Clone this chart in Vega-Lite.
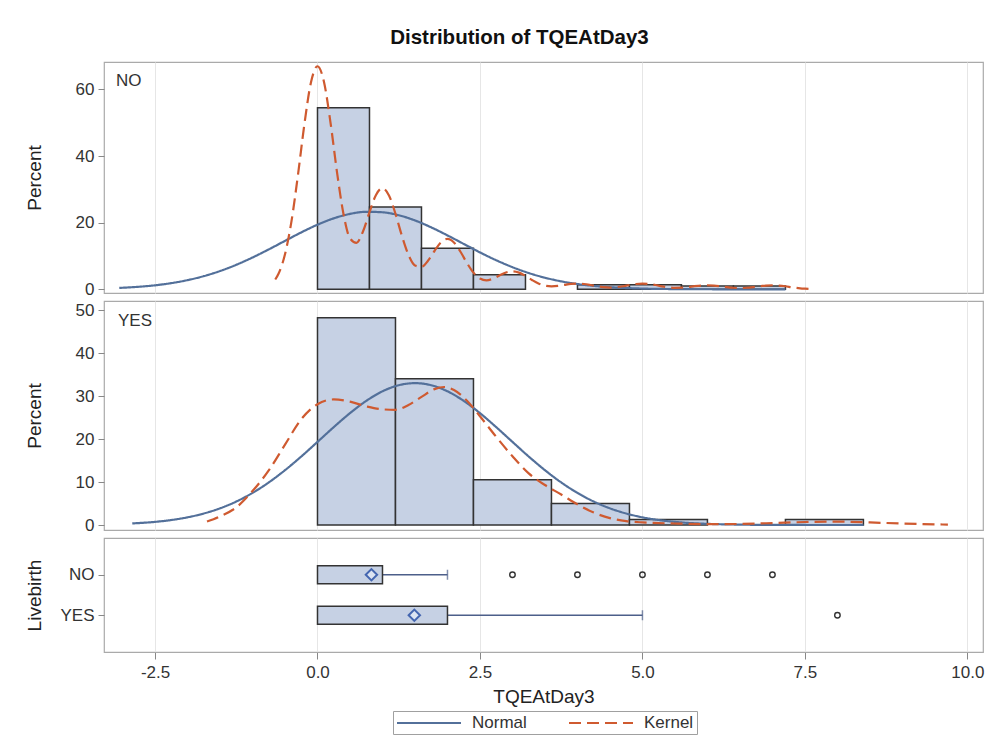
{
  "$schema": "https://vega.github.io/schema/vega-lite/v6.json",
  "background": "white",
  "bounds": "flush",
  "padding": {"left": 24, "top": 27, "right": 6, "bottom": 8},
  "title": {"text": "Distribution of TQEAtDay3", "fontSize": 20.5, "fontWeight": "bold", "font": "Liberation Sans", "color": "#111111", "anchor": "middle", "offset": 13, "dx": 15},
  "config": {
    "font": "Liberation Sans",
    "view": {"stroke": "#aaaaaa", "strokeWidth": 1.2},
    "concat": {"spacing": 8},
    "axis": {"labelFont": "Liberation Sans", "labelFontSize": 17, "labelColor": "#333333", "titleFont": "Liberation Sans", "titleFontSize": 19, "titleFontWeight": "normal", "titleColor": "#222222", "tickColor": "#888888", "gridColor": "#e6e6e6", "domain": false},
    "legend": {"title": null, "orient": "none", "legendX": 289, "legendY": 649, "direction": "horizontal", "symbolType": "M-1,0H7", "symbolSize": 256, "symbolStrokeWidth": 2, "labelFontSize": 17, "labelColor": "#333333", "strokeColor": "#a0a0a0", "padding": 3, "columnPadding": 38, "labelOffset": 58}
  },
  "datasets": {
    "hist": [
      {"group": "NO", "bin_start": 0, "bin_end": 0.8, "pct": 54.5},
      {"group": "NO", "bin_start": 0.8, "bin_end": 1.6, "pct": 24.7},
      {"group": "NO", "bin_start": 1.6, "bin_end": 2.4, "pct": 12.3},
      {"group": "NO", "bin_start": 2.4, "bin_end": 3.2, "pct": 4.4},
      {"group": "NO", "bin_start": 4.0, "bin_end": 4.8, "pct": 1.4},
      {"group": "NO", "bin_start": 4.8, "bin_end": 5.6, "pct": 1.4},
      {"group": "NO", "bin_start": 5.6, "bin_end": 6.4, "pct": 1.0},
      {"group": "NO", "bin_start": 6.4, "bin_end": 7.2, "pct": 1.0},
      {"group": "YES", "bin_start": 0, "bin_end": 1.2, "pct": 48.2},
      {"group": "YES", "bin_start": 1.2, "bin_end": 2.4, "pct": 34.0},
      {"group": "YES", "bin_start": 2.4, "bin_end": 3.6, "pct": 10.5},
      {"group": "YES", "bin_start": 3.6, "bin_end": 4.8, "pct": 5.0},
      {"group": "YES", "bin_start": 4.8, "bin_end": 6.0, "pct": 1.3},
      {"group": "YES", "bin_start": 7.2, "bin_end": 8.4, "pct": 1.3}
    ],
    "curves": [
      {"group": "NO", "curve": "Normal", "x": -3.05, "pct": 0.43},
      {"group": "NO", "curve": "Normal", "x": -2.75, "pct": 0.77},
      {"group": "NO", "curve": "Normal", "x": -2.5, "pct": 1.21},
      {"group": "NO", "curve": "Normal", "x": -2.25, "pct": 1.86},
      {"group": "NO", "curve": "Normal", "x": -2.0, "pct": 2.76},
      {"group": "NO", "curve": "Normal", "x": -1.75, "pct": 3.96},
      {"group": "NO", "curve": "Normal", "x": -1.5, "pct": 5.49},
      {"group": "NO", "curve": "Normal", "x": -1.25, "pct": 7.36},
      {"group": "NO", "curve": "Normal", "x": -1.0, "pct": 9.55},
      {"group": "NO", "curve": "Normal", "x": -0.75, "pct": 11.98},
      {"group": "NO", "curve": "Normal", "x": -0.5, "pct": 14.54},
      {"group": "NO", "curve": "Normal", "x": -0.25, "pct": 17.08},
      {"group": "NO", "curve": "Normal", "x": 0.0, "pct": 19.39},
      {"group": "NO", "curve": "Normal", "x": 0.25, "pct": 21.3},
      {"group": "NO", "curve": "Normal", "x": 0.5, "pct": 22.63},
      {"group": "NO", "curve": "Normal", "x": 0.75, "pct": 23.26},
      {"group": "NO", "curve": "Normal", "x": 1.0, "pct": 23.12},
      {"group": "NO", "curve": "Normal", "x": 1.25, "pct": 22.23},
      {"group": "NO", "curve": "Normal", "x": 1.5, "pct": 20.67},
      {"group": "NO", "curve": "Normal", "x": 1.75, "pct": 18.59},
      {"group": "NO", "curve": "Normal", "x": 2.0, "pct": 16.18},
      {"group": "NO", "curve": "Normal", "x": 2.25, "pct": 13.62},
      {"group": "NO", "curve": "Normal", "x": 2.5, "pct": 11.08},
      {"group": "NO", "curve": "Normal", "x": 2.75, "pct": 8.73},
      {"group": "NO", "curve": "Normal", "x": 3.0, "pct": 6.65},
      {"group": "NO", "curve": "Normal", "x": 3.25, "pct": 4.9},
      {"group": "NO", "curve": "Normal", "x": 3.5, "pct": 3.49},
      {"group": "NO", "curve": "Normal", "x": 3.75, "pct": 2.4},
      {"group": "NO", "curve": "Normal", "x": 4.0, "pct": 1.6},
      {"group": "NO", "curve": "Normal", "x": 4.5, "pct": 0.64},
      {"group": "NO", "curve": "Normal", "x": 5.0, "pct": 0.23},
      {"group": "NO", "curve": "Normal", "x": 5.5, "pct": 0.07},
      {"group": "NO", "curve": "Normal", "x": 6.0, "pct": 0.02},
      {"group": "NO", "curve": "Normal", "x": 7.2, "pct": 0.0},
      {"group": "NO", "curve": "Kernel", "x": -0.65, "pct": 2.94},
      {"group": "NO", "curve": "Kernel", "x": -0.6, "pct": 4.67},
      {"group": "NO", "curve": "Kernel", "x": -0.5, "pct": 10.53},
      {"group": "NO", "curve": "Kernel", "x": -0.4, "pct": 20.48},
      {"group": "NO", "curve": "Kernel", "x": -0.3, "pct": 34.38},
      {"group": "NO", "curve": "Kernel", "x": -0.2, "pct": 49.77},
      {"group": "NO", "curve": "Kernel", "x": -0.1, "pct": 62.13},
      {"group": "NO", "curve": "Kernel", "x": 0.0, "pct": 66.92},
      {"group": "NO", "curve": "Kernel", "x": 0.1, "pct": 62.21},
      {"group": "NO", "curve": "Kernel", "x": 0.2, "pct": 50.04},
      {"group": "NO", "curve": "Kernel", "x": 0.3, "pct": 35.19},
      {"group": "NO", "curve": "Kernel", "x": 0.4, "pct": 22.59},
      {"group": "NO", "curve": "Kernel", "x": 0.5, "pct": 15.3},
      {"group": "NO", "curve": "Kernel", "x": 0.6, "pct": 13.95},
      {"group": "NO", "curve": "Kernel", "x": 0.7, "pct": 17.36},
      {"group": "NO", "curve": "Kernel", "x": 0.8, "pct": 23.13},
      {"group": "NO", "curve": "Kernel", "x": 0.9, "pct": 28.32},
      {"group": "NO", "curve": "Kernel", "x": 1.0, "pct": 30.35},
      {"group": "NO", "curve": "Kernel", "x": 1.1, "pct": 28.18},
      {"group": "NO", "curve": "Kernel", "x": 1.2, "pct": 22.67},
      {"group": "NO", "curve": "Kernel", "x": 1.3, "pct": 15.97},
      {"group": "NO", "curve": "Kernel", "x": 1.4, "pct": 10.33},
      {"group": "NO", "curve": "Kernel", "x": 1.5, "pct": 7.15},
      {"group": "NO", "curve": "Kernel", "x": 1.6, "pct": 6.73},
      {"group": "NO", "curve": "Kernel", "x": 1.7, "pct": 8.57},
      {"group": "NO", "curve": "Kernel", "x": 1.8, "pct": 11.5},
      {"group": "NO", "curve": "Kernel", "x": 1.9, "pct": 14.1},
      {"group": "NO", "curve": "Kernel", "x": 2.0, "pct": 15.12},
      {"group": "NO", "curve": "Kernel", "x": 2.1, "pct": 14.03},
      {"group": "NO", "curve": "Kernel", "x": 2.2, "pct": 11.28},
      {"group": "NO", "curve": "Kernel", "x": 2.3, "pct": 7.9},
      {"group": "NO", "curve": "Kernel", "x": 2.4, "pct": 5.0},
      {"group": "NO", "curve": "Kernel", "x": 2.5, "pct": 3.23},
      {"group": "NO", "curve": "Kernel", "x": 2.6, "pct": 2.7},
      {"group": "NO", "curve": "Kernel", "x": 2.7, "pct": 3.18},
      {"group": "NO", "curve": "Kernel", "x": 2.8, "pct": 4.15},
      {"group": "NO", "curve": "Kernel", "x": 2.9, "pct": 5.05},
      {"group": "NO", "curve": "Kernel", "x": 3.0, "pct": 5.4},
      {"group": "NO", "curve": "Kernel", "x": 3.1, "pct": 5.02},
      {"group": "NO", "curve": "Kernel", "x": 3.2, "pct": 4.03},
      {"group": "NO", "curve": "Kernel", "x": 3.3, "pct": 2.82},
      {"group": "NO", "curve": "Kernel", "x": 3.4, "pct": 1.77},
      {"group": "NO", "curve": "Kernel", "x": 3.5, "pct": 1.12},
      {"group": "NO", "curve": "Kernel", "x": 3.6, "pct": 0.91},
      {"group": "NO", "curve": "Kernel", "x": 3.7, "pct": 1.02},
      {"group": "NO", "curve": "Kernel", "x": 3.8, "pct": 1.33},
      {"group": "NO", "curve": "Kernel", "x": 3.9, "pct": 1.61},
      {"group": "NO", "curve": "Kernel", "x": 4.0, "pct": 1.72},
      {"group": "NO", "curve": "Kernel", "x": 4.1, "pct": 1.6},
      {"group": "NO", "curve": "Kernel", "x": 4.2, "pct": 1.3},
      {"group": "NO", "curve": "Kernel", "x": 4.3, "pct": 0.93},
      {"group": "NO", "curve": "Kernel", "x": 4.4, "pct": 0.65},
      {"group": "NO", "curve": "Kernel", "x": 4.5, "pct": 0.54},
      {"group": "NO", "curve": "Kernel", "x": 4.6, "pct": 0.65},
      {"group": "NO", "curve": "Kernel", "x": 4.7, "pct": 0.93},
      {"group": "NO", "curve": "Kernel", "x": 4.8, "pct": 1.3},
      {"group": "NO", "curve": "Kernel", "x": 4.9, "pct": 1.6},
      {"group": "NO", "curve": "Kernel", "x": 5.0, "pct": 1.72},
      {"group": "NO", "curve": "Kernel", "x": 5.1, "pct": 1.6},
      {"group": "NO", "curve": "Kernel", "x": 5.2, "pct": 1.29},
      {"group": "NO", "curve": "Kernel", "x": 5.3, "pct": 0.91},
      {"group": "NO", "curve": "Kernel", "x": 5.4, "pct": 0.62},
      {"group": "NO", "curve": "Kernel", "x": 5.5, "pct": 0.46},
      {"group": "NO", "curve": "Kernel", "x": 5.6, "pct": 0.5},
      {"group": "NO", "curve": "Kernel", "x": 5.7, "pct": 0.68},
      {"group": "NO", "curve": "Kernel", "x": 5.8, "pct": 0.94},
      {"group": "NO", "curve": "Kernel", "x": 5.9, "pct": 1.14},
      {"group": "NO", "curve": "Kernel", "x": 6.0, "pct": 1.23},
      {"group": "NO", "curve": "Kernel", "x": 6.1, "pct": 1.14},
      {"group": "NO", "curve": "Kernel", "x": 6.2, "pct": 0.92},
      {"group": "NO", "curve": "Kernel", "x": 6.3, "pct": 0.66},
      {"group": "NO", "curve": "Kernel", "x": 6.4, "pct": 0.47},
      {"group": "NO", "curve": "Kernel", "x": 6.5, "pct": 0.38},
      {"group": "NO", "curve": "Kernel", "x": 6.6, "pct": 0.47},
      {"group": "NO", "curve": "Kernel", "x": 6.7, "pct": 0.66},
      {"group": "NO", "curve": "Kernel", "x": 6.8, "pct": 0.92},
      {"group": "NO", "curve": "Kernel", "x": 6.9, "pct": 1.14},
      {"group": "NO", "curve": "Kernel", "x": 7.0, "pct": 1.23},
      {"group": "NO", "curve": "Kernel", "x": 7.1, "pct": 1.14},
      {"group": "NO", "curve": "Kernel", "x": 7.2, "pct": 0.92},
      {"group": "NO", "curve": "Kernel", "x": 7.3, "pct": 0.63},
      {"group": "NO", "curve": "Kernel", "x": 7.4, "pct": 0.38},
      {"group": "NO", "curve": "Kernel", "x": 7.5, "pct": 0.19},
      {"group": "NO", "curve": "Kernel", "x": 7.6, "pct": 0.09},
      {"group": "YES", "curve": "Normal", "x": -2.85, "pct": 0.37},
      {"group": "YES", "curve": "Normal", "x": -2.5, "pct": 0.73},
      {"group": "YES", "curve": "Normal", "x": -2.25, "pct": 1.16},
      {"group": "YES", "curve": "Normal", "x": -2.0, "pct": 1.79},
      {"group": "YES", "curve": "Normal", "x": -1.75, "pct": 2.68},
      {"group": "YES", "curve": "Normal", "x": -1.5, "pct": 3.88},
      {"group": "YES", "curve": "Normal", "x": -1.25, "pct": 5.46},
      {"group": "YES", "curve": "Normal", "x": -1.0, "pct": 7.47},
      {"group": "YES", "curve": "Normal", "x": -0.75, "pct": 9.9},
      {"group": "YES", "curve": "Normal", "x": -0.5, "pct": 12.75},
      {"group": "YES", "curve": "Normal", "x": -0.25, "pct": 15.93},
      {"group": "YES", "curve": "Normal", "x": 0.0, "pct": 19.33},
      {"group": "YES", "curve": "Normal", "x": 0.25, "pct": 22.76},
      {"group": "YES", "curve": "Normal", "x": 0.5, "pct": 26.02},
      {"group": "YES", "curve": "Normal", "x": 0.75, "pct": 28.87},
      {"group": "YES", "curve": "Normal", "x": 1.0, "pct": 31.1},
      {"group": "YES", "curve": "Normal", "x": 1.25, "pct": 32.51},
      {"group": "YES", "curve": "Normal", "x": 1.5, "pct": 33.0},
      {"group": "YES", "curve": "Normal", "x": 1.75, "pct": 32.51},
      {"group": "YES", "curve": "Normal", "x": 2.0, "pct": 31.1},
      {"group": "YES", "curve": "Normal", "x": 2.25, "pct": 28.87},
      {"group": "YES", "curve": "Normal", "x": 2.5, "pct": 26.02},
      {"group": "YES", "curve": "Normal", "x": 2.75, "pct": 22.76},
      {"group": "YES", "curve": "Normal", "x": 3.0, "pct": 19.33},
      {"group": "YES", "curve": "Normal", "x": 3.25, "pct": 15.93},
      {"group": "YES", "curve": "Normal", "x": 3.5, "pct": 12.75},
      {"group": "YES", "curve": "Normal", "x": 3.75, "pct": 9.9},
      {"group": "YES", "curve": "Normal", "x": 4.0, "pct": 7.47},
      {"group": "YES", "curve": "Normal", "x": 4.25, "pct": 5.46},
      {"group": "YES", "curve": "Normal", "x": 4.5, "pct": 3.88},
      {"group": "YES", "curve": "Normal", "x": 4.75, "pct": 2.68},
      {"group": "YES", "curve": "Normal", "x": 5.0, "pct": 1.79},
      {"group": "YES", "curve": "Normal", "x": 5.25, "pct": 1.16},
      {"group": "YES", "curve": "Normal", "x": 5.5, "pct": 0.73},
      {"group": "YES", "curve": "Normal", "x": 6.0, "pct": 0.27},
      {"group": "YES", "curve": "Normal", "x": 6.5, "pct": 0.09},
      {"group": "YES", "curve": "Normal", "x": 7.0, "pct": 0.02},
      {"group": "YES", "curve": "Normal", "x": 8.4, "pct": 0.0},
      {"group": "YES", "curve": "Kernel", "x": -1.7, "pct": 0.8},
      {"group": "YES", "curve": "Kernel", "x": -1.5, "pct": 2.0},
      {"group": "YES", "curve": "Kernel", "x": -1.25, "pct": 4.1},
      {"group": "YES", "curve": "Kernel", "x": -1.0, "pct": 7.9},
      {"group": "YES", "curve": "Kernel", "x": -0.75, "pct": 12.7},
      {"group": "YES", "curve": "Kernel", "x": -0.5, "pct": 18.7},
      {"group": "YES", "curve": "Kernel", "x": -0.25, "pct": 24.6},
      {"group": "YES", "curve": "Kernel", "x": 0.0, "pct": 28.1},
      {"group": "YES", "curve": "Kernel", "x": 0.25, "pct": 29.2},
      {"group": "YES", "curve": "Kernel", "x": 0.5, "pct": 28.7},
      {"group": "YES", "curve": "Kernel", "x": 0.75, "pct": 27.6},
      {"group": "YES", "curve": "Kernel", "x": 1.0, "pct": 26.9},
      {"group": "YES", "curve": "Kernel", "x": 1.2, "pct": 26.8},
      {"group": "YES", "curve": "Kernel", "x": 1.4, "pct": 27.9},
      {"group": "YES", "curve": "Kernel", "x": 1.6, "pct": 29.8},
      {"group": "YES", "curve": "Kernel", "x": 1.8, "pct": 31.6},
      {"group": "YES", "curve": "Kernel", "x": 1.95, "pct": 32.1},
      {"group": "YES", "curve": "Kernel", "x": 2.1, "pct": 31.4},
      {"group": "YES", "curve": "Kernel", "x": 2.3, "pct": 28.9},
      {"group": "YES", "curve": "Kernel", "x": 2.5, "pct": 25.3},
      {"group": "YES", "curve": "Kernel", "x": 2.75, "pct": 20.5},
      {"group": "YES", "curve": "Kernel", "x": 3.0, "pct": 16.0},
      {"group": "YES", "curve": "Kernel", "x": 3.25, "pct": 12.0},
      {"group": "YES", "curve": "Kernel", "x": 3.5, "pct": 9.3},
      {"group": "YES", "curve": "Kernel", "x": 3.75, "pct": 7.1},
      {"group": "YES", "curve": "Kernel", "x": 4.0, "pct": 4.8},
      {"group": "YES", "curve": "Kernel", "x": 4.25, "pct": 2.9},
      {"group": "YES", "curve": "Kernel", "x": 4.5, "pct": 1.6},
      {"group": "YES", "curve": "Kernel", "x": 4.75, "pct": 0.9},
      {"group": "YES", "curve": "Kernel", "x": 5.0, "pct": 0.6},
      {"group": "YES", "curve": "Kernel", "x": 5.5, "pct": 0.35},
      {"group": "YES", "curve": "Kernel", "x": 6.0, "pct": 0.2},
      {"group": "YES", "curve": "Kernel", "x": 6.5, "pct": 0.25},
      {"group": "YES", "curve": "Kernel", "x": 7.0, "pct": 0.45},
      {"group": "YES", "curve": "Kernel", "x": 7.5, "pct": 0.7},
      {"group": "YES", "curve": "Kernel", "x": 8.0, "pct": 0.8},
      {"group": "YES", "curve": "Kernel", "x": 8.5, "pct": 0.6},
      {"group": "YES", "curve": "Kernel", "x": 9.0, "pct": 0.35},
      {"group": "YES", "curve": "Kernel", "x": 9.5, "pct": 0.15},
      {"group": "YES", "curve": "Kernel", "x": 9.7, "pct": 0.1}
    ],
    "box": [
      {"group": "NO", "q1": 0, "q3": 1, "mean": 0.83, "wlo": 0, "whi": 2},
      {"group": "YES", "q1": 0, "q3": 2, "mean": 1.49, "wlo": 0, "whi": 5}
    ],
    "outliers": [
      {"group": "NO", "value": 3},
      {"group": "NO", "value": 4},
      {"group": "NO", "value": 5},
      {"group": "NO", "value": 6},
      {"group": "NO", "value": 7},
      {"group": "YES", "value": 8}
    ],
    "labels": [
      {"group": "NO"},
      {"group": "YES"}
    ]
  },
  "vconcat": [
    {
      "width": 879,
      "height": 231,
      "layer": [
        {
          "data": {"name": "hist"},
          "transform": [{"filter": "datum.group === 'NO'"}],
          "mark": {"type": "bar", "fill": "#c6d1e4", "stroke": "#333333", "strokeWidth": 1.5},
          "encoding": {
            "x": {"field": "bin_start", "type": "quantitative", "scale": {"domain": [-3.285, 10.24], "nice": false, "zero": false},
                  "axis": {"grid": true, "labels": false, "ticks": false, "title": null, "values": [-2.5, 0, 2.5, 5, 7.5, 10]}},
            "x2": {"field": "bin_end"},
            "y": {"field": "pct", "type": "quantitative", "scale": {"domain": [-1.1, 68.2], "nice": false, "zero": false},
                  "axis": {"grid": false, "values": [0, 20, 40, 60], "title": "Percent", "titleX": -60, "tickSize": 6, "labelPadding": 4}},
            "y2": {"datum": 0}
          }
        },
        {
          "data": {"name": "curves"},
          "transform": [{"filter": "datum.group === 'NO'"}],
          "mark": {"type": "line", "interpolate": "monotone", "strokeWidth": 2.2},
          "encoding": {
            "x": {"field": "x", "type": "quantitative"},
            "y": {"field": "pct", "type": "quantitative"},
            "color": {"field": "curve", "type": "nominal", "scale": {"domain": ["Normal", "Kernel"], "range": ["#53709a", "#cf5a30"]}},
            "strokeDash": {"field": "curve", "type": "nominal", "scale": {"domain": ["Normal", "Kernel"], "range": [[1, 0], [12, 6]]}}
          }
        },
        {
          "data": {"name": "labels"},
          "transform": [{"filter": "datum.group === 'NO'"}],
          "mark": {"type": "text", "align": "left", "baseline": "middle", "fontSize": 17, "color": "#333333"},
          "encoding": {
            "x": {"datum": -3.1},
            "y": {"datum": 62.5},
            "text": {"field": "group"}
          }
        }
      ]
    },
    {
      "width": 879,
      "height": 229,
      "layer": [
        {
          "data": {"name": "hist"},
          "transform": [{"filter": "datum.group === 'YES'"}],
          "mark": {"type": "bar", "fill": "#c6d1e4", "stroke": "#333333", "strokeWidth": 1.5},
          "encoding": {
            "x": {"field": "bin_start", "type": "quantitative", "scale": {"domain": [-3.285, 10.24], "nice": false, "zero": false},
                  "axis": {"grid": true, "labels": false, "ticks": false, "title": null, "values": [-2.5, 0, 2.5, 5, 7.5, 10]}},
            "x2": {"field": "bin_end"},
            "y": {"field": "pct", "type": "quantitative", "scale": {"domain": [-1.16, 52.1], "nice": false, "zero": false},
                  "axis": {"grid": false, "values": [0, 10, 20, 30, 40, 50], "title": "Percent", "titleX": -60, "tickSize": 6, "labelPadding": 4}},
            "y2": {"datum": 0}
          }
        },
        {
          "data": {"name": "curves"},
          "transform": [{"filter": "datum.group === 'YES'"}],
          "mark": {"type": "line", "interpolate": "monotone", "strokeWidth": 2.2},
          "encoding": {
            "x": {"field": "x", "type": "quantitative"},
            "y": {"field": "pct", "type": "quantitative"},
            "color": {"field": "curve", "type": "nominal", "scale": {"domain": ["Normal", "Kernel"], "range": ["#53709a", "#cf5a30"]}},
            "strokeDash": {"field": "curve", "type": "nominal", "scale": {"domain": ["Normal", "Kernel"], "range": [[1, 0], [12, 6]]}}
          }
        },
        {
          "data": {"name": "labels"},
          "transform": [{"filter": "datum.group === 'YES'"}],
          "mark": {"type": "text", "align": "left", "baseline": "middle", "fontSize": 17, "color": "#333333"},
          "encoding": {
            "x": {"datum": -3.07},
            "y": {"datum": 47.4},
            "text": {"field": "group"}
          }
        }
      ]
    },
    {
      "width": 879,
      "height": 114,
      "encoding": {
        "y": {"field": "group", "type": "nominal", "scale": {"type": "point", "domain": ["NO", "YES"], "padding": 0.907},
              "axis": {"title": "Livebirth", "titleX": -60, "tickSize": 6, "labelPadding": 4, "grid": false}}
      },
      "layer": [
        {
          "data": {"name": "box"},
          "mark": {"type": "rule", "color": "#4d5f8a", "strokeWidth": 1.5},
          "encoding": {
            "x": {"field": "q3", "type": "quantitative", "scale": {"domain": [-3.285, 10.24], "nice": false, "zero": false},
                  "axis": {"grid": true, "values": [-2.5, 0, 2.5, 5, 7.5, 10], "labelExpr": "replace(format(datum.value, '.1f'), '\u2212', '-')", "title": "TQEAtDay3", "tickSize": 7, "labelPadding": 5, "titlePadding": 7}},
            "x2": {"field": "whi"}
          }
        },
        {
          "data": {"name": "box"},
          "mark": {"type": "tick", "color": "#4d5f8a", "size": 10, "thickness": 1.5},
          "encoding": {
            "x": {"field": "whi", "type": "quantitative"}
          }
        },
        {
          "data": {"name": "box"},
          "mark": {"type": "bar", "fill": "#c6d1e4", "stroke": "#333333", "strokeWidth": 1.5, "size": 18},
          "encoding": {
            "x": {"field": "q1", "type": "quantitative"},
            "x2": {"field": "q3"}
          }
        },
        {
          "data": {"name": "box"},
          "mark": {"type": "point", "shape": "diamond", "size": 130, "filled": true, "fill": "#dce4f2", "stroke": "#4466b0", "strokeWidth": 2, "opacity": 1},
          "encoding": {
            "x": {"field": "mean", "type": "quantitative"}
          }
        },
        {
          "data": {"name": "outliers"},
          "mark": {"type": "point", "shape": "circle", "size": 30, "filled": false, "stroke": "#333333", "strokeWidth": 1.4, "opacity": 1},
          "encoding": {
            "x": {"field": "value", "type": "quantitative"}
          }
        }
      ]
    }
  ],
  "resolve": {"scale": {"x": "independent", "y": "independent", "color": "shared", "strokeDash": "shared"}}
}
